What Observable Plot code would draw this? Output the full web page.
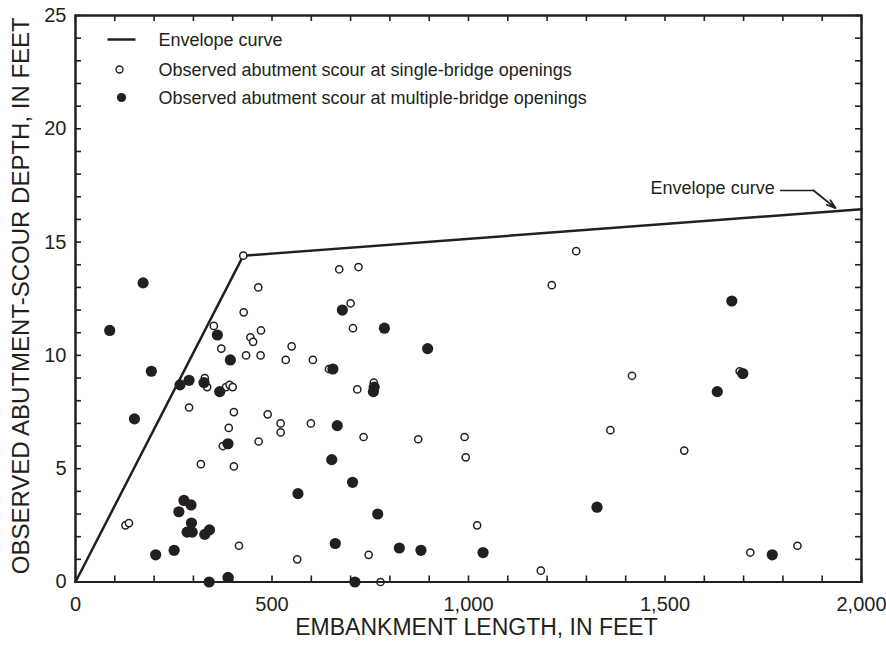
<!DOCTYPE html>
<html>
<head>
<meta charset="utf-8">
<script src="https://cdn.jsdelivr.net/npm/d3@7"></script>
<script src="https://cdn.jsdelivr.net/npm/@observablehq/plot@0.6"></script>
<style>
  html, body { margin: 0; padding: 0; background: #fff; }
  #wrap { position: relative; width: 886px; height: 646px; }
  #wrap > svg { position: absolute; left: 0; top: 0; }
  #wrap > svg.overlay { pointer-events: none; }
</style>
</head>
<body>
<div id="wrap"></div>
<script>
// ---- Data ----
const singleLength = [427, 465, 671, 720, 428, 700, 706, 352, 445, 452, 472, 371, 434, 471, 550, 535, 604, 645, 717, 329, 335, 383, 392, 400, 289, 403, 489, 522, 522, 599, 390, 375, 466, 319, 403, 127, 136, 416, 564, 759, 733, 872, 990, 993, 1022, 746, 1184, 776, 1274, 1212, 1416, 1361, 1549, 1690, 1717, 1837];
const singleDepth  = [14.4, 13.0, 13.8, 13.9, 11.9, 12.3, 11.2, 11.3, 10.8, 10.6, 11.1, 10.3, 10.0, 10.0, 10.4, 9.8, 9.8, 9.4, 8.5, 9.0, 8.6, 8.6, 8.7, 8.6, 7.7, 7.5, 7.4, 7.0, 6.6, 7.0, 6.8, 6.0, 6.2, 5.2, 5.1, 2.5, 2.6, 1.6, 1.0, 8.8, 6.4, 6.3, 6.4, 5.5, 2.5, 1.2, 0.5, 0.0, 14.6, 13.1, 9.1, 6.7, 5.8, 9.3, 1.3, 1.6];

const multiLength = [172, 87, 679, 361, 394, 655, 193, 266, 289, 327, 367, 150, 666, 388, 652, 705, 566, 276, 294, 263, 295, 284, 297, 329, 341, 661, 204, 251, 340, 388, 711, 786, 896, 760, 758, 769, 1327, 824, 879, 1037, 1670, 1698, 1633, 1773];
const multiDepth  = [13.2, 11.1, 12.0, 10.9, 9.8, 9.4, 9.3, 8.7, 8.9, 8.8, 8.4, 7.2, 6.9, 6.1, 5.4, 4.4, 3.9, 3.6, 3.4, 3.1, 2.6, 2.2, 2.2, 2.1, 2.3, 1.7, 1.2, 1.4, 0.0, 0.2, 0.0, 11.2, 10.3, 8.6, 8.4, 3.0, 3.3, 1.5, 1.4, 1.3, 12.4, 9.2, 8.4, 1.2];

const envelopeLength = [0, 427, 2000];
const envelopeDepth  = [0, 14.4, 16.45];

// annotation "Envelope curve" with leader arrow
const annotationText = ["Envelope curve"];
const annotationPos = [1779, 17.37];
const leaderLength = [1794, 1878];
const leaderDepth  = [17.28, 17.28];
const arrowFrom = [1878, 17.28];
const arrowTo   = [1934, 16.5];

const xMajorTicks = [0, 500, 1000, 1500, 2000];
const xMinorTicks = [0, 100, 200, 300, 400, 500, 600, 700, 800, 900, 1000, 1100, 1200, 1300, 1400, 1500, 1600, 1700, 1800, 1900, 2000];
const yMajorTicks = [0, 5, 10, 15, 20, 25];
const yMinorTicks = [0, 1, 2, 3, 4, 5, 6, 7, 8, 9, 10, 11, 12, 13, 14, 15, 16, 17, 18, 19, 20, 21, 22, 23, 24, 25];

const legendLabels = [
  "Envelope curve",
  "Observed abutment scour at single-bridge openings",
  "Observed abutment scour at multiple-bridge openings"
];
const xTitle = "EMBANKMENT LENGTH, IN FEET";
const yTitle = "OBSERVED ABUTMENT-SCOUR DEPTH, IN FEET";

// ---- Build tables ----
const single = singleLength.map((x, i) => ({x, y: singleDepth[i]}));
const multi = multiLength.map((x, i) => ({x, y: multiDepth[i]}));
const envelope = envelopeLength.map((x, i) => ({x, y: envelopeDepth[i]}));
const leader = leaderLength.map((x, i) => ({x, y: leaderDepth[i]}));

const INK = "#231f20";
const W = 886, H = 646, ML = 75, MR = 25, MT = 15, MB = 64.5;
const X_DOMAIN = [0, 2000], Y_DOMAIN = [0, 25];
const innerW = W - ML - MR, innerH = H - MT - MB;
const TICK = 6; // inward tick length in pixels
const tickDY = TICK * (Y_DOMAIN[1] - Y_DOMAIN[0]) / innerH;
const tickDX = TICK * (X_DOMAIN[1] - X_DOMAIN[0]) / innerW;
const lineSymbol = {draw(ctx) { ctx.moveTo(-14, 0); ctx.lineTo(14, 0); }};
const FONT = "'Liberation Sans', Arial, Helvetica, sans-serif";

// ---- Main chart ----
const chart = Plot.plot({
  width: W, height: H,
  marginLeft: ML, marginRight: MR, marginTop: MT, marginBottom: MB,
  style: {fontFamily: FONT, color: INK, background: "#fff"},
  x: {domain: X_DOMAIN},
  y: {domain: Y_DOMAIN},
  marks: [
    // tick labels
    Plot.axisX(xMajorTicks, {anchor: "bottom", tickSize: 0, tickPadding: 15, tickFormat: d3.format(","), fontSize: 20, label: null, fill: INK}),
    Plot.axisY(yMajorTicks, {anchor: "left", tickSize: 0, tickPadding: 9, fontSize: 20, label: null, fill: INK}),
    // axis titles
    Plot.text([xTitle], {frameAnchor: "bottom", lineAnchor: "middle", textAnchor: "middle", dx: 8, dy: 46, fontSize: 23, fill: INK}),
    Plot.text([yTitle], {frameAnchor: "left", lineAnchor: "middle", textAnchor: "middle", dx: -54, dy: -3, rotate: -90, fontSize: 24, fill: INK}),
    // envelope curve
    Plot.line(envelope, {x: "x", y: "y", stroke: INK, strokeWidth: 2.5}),
    // observations
    Plot.dot(single, {x: "x", y: "y", r: 3.6, stroke: INK, strokeWidth: 1.5, fill: "#fff"}),
    Plot.dot(multi, {x: "x", y: "y", r: 5.6, fill: INK, stroke: "none"}),
    // annotation
    Plot.text(annotationText, {x: () => annotationPos[0], y: () => annotationPos[1], textAnchor: "end", lineAnchor: "middle", fontSize: 18, fill: INK}),
    Plot.line(leader, {x: "x", y: "y", stroke: INK, strokeWidth: 1.5}),
    Plot.arrow([0], {x1: () => arrowFrom[0], y1: () => arrowFrom[1], x2: () => arrowTo[0], y2: () => arrowTo[1], stroke: INK, strokeWidth: 1.8, headLength: 12, headAngle: 36}),
    // legend (inside the frame, top-left)
    Plot.dot([legendLabels[0]], {frameAnchor: "top-left", dx: 46, dy: 24, symbol: lineSymbol, r: 1, stroke: INK, strokeWidth: 2.5, fill: "none"}),
    Plot.dot([legendLabels[1]], {frameAnchor: "top-left", dx: 44, dy: 54, r: 3.5, stroke: INK, strokeWidth: 1.4, fill: "#fff"}),
    Plot.dot([legendLabels[2]], {frameAnchor: "top-left", dx: 46, dy: 82, r: 4.6, fill: INK, stroke: "none"}),
    Plot.text([legendLabels[0]], {frameAnchor: "top-left", dx: 83, dy: 25, textAnchor: "start", lineAnchor: "middle", fontSize: 18, fill: INK}),
    Plot.text([legendLabels[1]], {frameAnchor: "top-left", dx: 83, dy: 55, textAnchor: "start", lineAnchor: "middle", fontSize: 18, fill: INK}),
    Plot.text([legendLabels[2]], {frameAnchor: "top-left", dx: 83, dy: 83, textAnchor: "start", lineAnchor: "middle", fontSize: 18, fill: INK}),
    // frame
    Plot.frame({stroke: INK, strokeWidth: 2})
  ]
});

// ---- Overlay with the inward ticks (same scales and margins) ----
const ticks = Plot.plot({
  width: W, height: H,
  marginLeft: ML, marginRight: MR, marginTop: MT, marginBottom: MB,
  style: {fontFamily: FONT, color: INK, background: "transparent"},
  x: {domain: X_DOMAIN, axis: null},
  y: {domain: Y_DOMAIN, axis: null},
  marks: [
    Plot.ruleX(xMinorTicks, {x: d => d, y1: () => Y_DOMAIN[0], y2: () => Y_DOMAIN[0] + tickDY, stroke: INK, strokeWidth: 1.6}),
    Plot.ruleX(xMinorTicks, {x: d => d, y1: () => Y_DOMAIN[1] - tickDY, y2: () => Y_DOMAIN[1], stroke: INK, strokeWidth: 1.6}),
    Plot.ruleY(yMinorTicks, {y: d => d, x1: () => X_DOMAIN[0], x2: () => X_DOMAIN[0] + tickDX, stroke: INK, strokeWidth: 1.6}),
    Plot.ruleY(yMinorTicks, {y: d => d, x1: () => X_DOMAIN[1] - tickDX, x2: () => X_DOMAIN[1], stroke: INK, strokeWidth: 1.6}),
    Plot.frame({stroke: INK, strokeWidth: 2})
  ]
});
ticks.classList.add("overlay");

const wrap = document.getElementById("wrap");
wrap.appendChild(chart);
wrap.appendChild(ticks);
</script>
</body>
</html>
